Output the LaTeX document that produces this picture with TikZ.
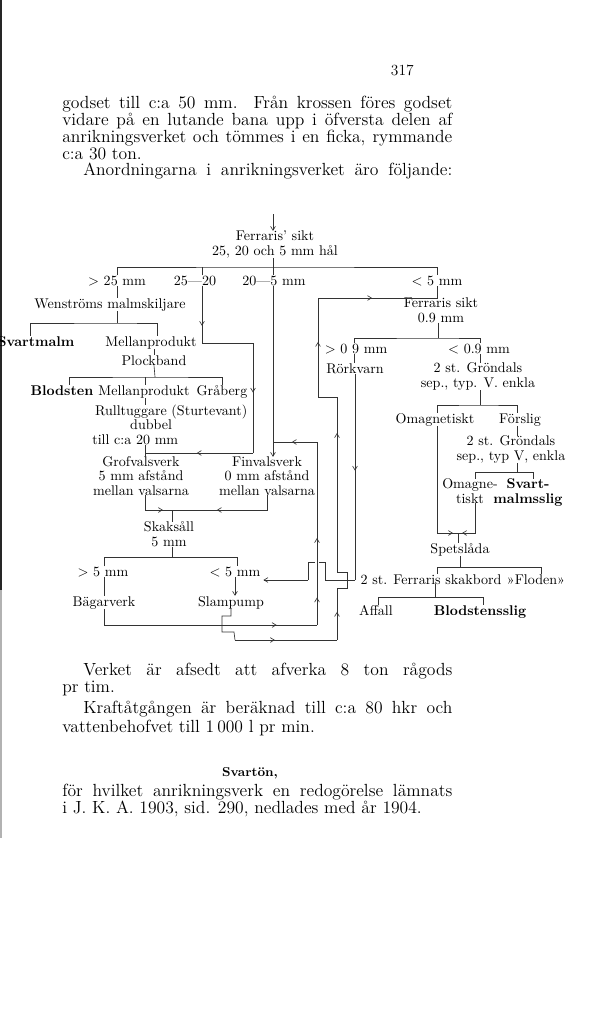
\documentclass[tikz,border=0pt]{standalone}
\usetikzlibrary{arrows.meta,decorations.markings}

\tikzset{
  lbl/.style={font=\fontsize{10}{10}\selectfont, inner sep=0pt, anchor=base, align=center},
  heavy/.style={lbl, font=\fontsize{10}{10}\selectfont\bfseries},
  bodytext/.style={font=\fontsize{12.5}{12.1}\selectfont, inner sep=0pt, anchor=base west, align=left},
  wire/.style={draw=black!80, line width=0.45pt},
  flow/.style={wire, -{Straight Barb[length=2.8pt,width=3.4pt]}},
  tipat/.style={postaction={decorate, decoration={markings,
      mark=at position #1 with {\arrow{Straight Barb[length=2.8pt,width=3.4pt]}}}}},
  bridge/.style={preaction={draw=white, line width=2.4pt, shorten <=4pt, shorten >=4pt}}
}

\begin{document}
\begin{tikzpicture}[x=0.025cm, y=-0.025cm]
\useasboundingbox (0,0) rectangle (616,1009);

% scan edge
\draw[black!85, line width=1.1pt] (1,0) -- (1,590);
\draw[black!30, line width=1pt] (1,590) -- (1,838);

% page text above (base anchor = last line)
\node[bodytext, anchor=base east, font=\fontsize{11}{12}\selectfont] (pageno) at (414,75) {317};
\node[bodytext] (intro) at (62,159.7) {\makebox[9.75cm][s]{godset till c:a 50 mm. Från krossen föres godset}\\
  \makebox[9.75cm][s]{vidare på en lutande bana upp i öfversta delen af}\\
  \makebox[9.75cm][s]{anrikningsverket och tömmes i en ficka, rymmande}\\
  c:a 30 ton.};
\node[bodytext] (anord) at (83,175.7) {\makebox[9.225cm][s]{Anordningarna i anrikningsverket äro följande:}};

% diagram, left half
\node[lbl] (fsikt) at (275,255) {Ferraris' sikt\\25, 20 och 5 mm hål};
\node[lbl] (gtA) at (117,285) {> 25 mm};
\node[lbl] (mid) at (195,285) {25---20};
\node[lbl] (fine) at (274,285) {20---5 mm};
\node[lbl] (ltA) at (437,285) {< 5 mm};
\node[lbl] (wen) at (110,308) {Wenströms malmskiljare};
\node[heavy] (svm) at (36,346) {Svartmalm};
\node[lbl] (mpA) at (151,346) {Mellanprodukt};
\node[lbl] (plock) at (154,365) {Plockband};
\node[heavy] (blod) at (62,395) {Blodsten};
\node[lbl] (mpB) at (144,395) {Mellanprodukt};
\node[lbl] (grab) at (222,395) {Gråberg};
\node[lbl, anchor=base west, align=left] (rull) at (92,444)
  {\hspace*{2pt}Rulltuggare (Sturtevant)\\\hspace*{27pt}dubbel\\till c:a 20 mm};
\node[lbl] (grof) at (141,495) {Grofvalsverk\\5 mm afstånd\\mellan valsarna};
\node[lbl] (fin) at (267,495) {Finvalsverk\\0 mm afstånd\\mellan valsarna};
\node[lbl] (sall) at (169,546) {Skaksåll\\5 mm};
\node[lbl] (gtB) at (103,576) {> 5 mm};
\node[lbl] (ltB) at (235,576) {< 5 mm};
\node[lbl] (bag) at (104,606) {Bägarverk};
\node[lbl] (slam) at (231,606) {Slampump};

% diagram, right half
\node[lbl] (fsB) at (441,322) {Ferraris sikt\\0.9 mm};
\node[lbl] (gtC) at (356,353) {> 0 9 mm};
\node[lbl] (ltC) at (479,353) {< 0.9 mm};
\node[lbl] (rork) at (355,373) {Rörkvarn};
\node[lbl] (gronA) at (478,387) {2 st. Gröndals\\sep., typ. V. enkla};
\node[lbl] (omagA) at (435,423) {Omagnetiskt};
\node[lbl] (forsl) at (520,423) {Förslig};
\node[lbl] (gronB) at (511,460) {2 st. Gröndals\\sep., typ V, enkla};
\node[lbl] (omagB) at (470,503) {Omagne-\\tiskt};
\node[heavy] (svslig) at (528,503) {Svart-\\malmsslig};
\node[lbl] (spets) at (460,553) {Spetslåda};
\node[lbl] (skakb) at (431,584) {2 st. Ferraris skakbord};
\node[lbl] (floden) at (536,584) {»Floden»};
\node[lbl] (affall) at (376,615) {Affall};
\node[heavy] (bslig) at (480,615) {Blodstensslig};

% junctions
\coordinate (feed) at (273,214);
\coordinate (sA) at (273,267);
\coordinate (sB) at (117,323);
\coordinate (sC) at (155,377);
\coordinate (cA) at (202,343);
\coordinate (cB) at (253,343);
\coordinate (cC) at (253,453);
\coordinate (jA) at (145,453);
\coordinate (cD) at (273,442);
\coordinate (cE) at (104,625);
\coordinate (cF) at (317,625);
\coordinate (cG) at (317,442);
\coordinate (jB) at (172,510);
\coordinate (sD) at (172,557);
\coordinate (cI) at (337,640);
\coordinate (cJ) at (235,640);
\coordinate (cK) at (337,588);
\coordinate (cL) at (337,572);
\coordinate (cM) at (337,397);
\coordinate (cN) at (318,397);
\coordinate (cO) at (318,298);
\coordinate (cP) at (438,298);
\coordinate (cQ) at (355,580);
\coordinate (cR) at (308,580);
\coordinate (sE) at (438,338);
\coordinate (sF) at (480,405);
\coordinate (sG) at (517,472);
\coordinate (jC) at (458,533);
\coordinate (sH) at (460,567);
\coordinate (sI) at (435,597);

% sikt 25, 20, 5
\draw[flow] (feed) -- (fsikt.north -| feed);
\draw[wire] (fsikt.south -| sA) -- (sA);
\draw[wire] (gtA.north) |- (sA) -| (ltA.north);
\draw[wire] (fine.north -| sA) -- (sA);
\draw[wire] (mid.north -| cA) -- (sA -| cA);

% Wenström, plockband
\draw[wire] (gtA.south) -- (wen.north -| gtA.south);
\draw[wire] (wen.south -| sB) -- (sB);
\draw[wire] (svm.north -| 30,0) |- (sB) -| (mpA.north -| 157,0);
\draw[wire] (mpA.south -| plock.north) -- (plock.north);
\draw[wire] (plock.south) -- (sC);
\draw[wire] (blod.north -| 69,0) |- (sC) -| (grab.north);
\draw[wire] (mpB.north -| jA) -- (sC -| jA);
\draw[wire] (mpB.south -| jA) -- (rull.north -| jA);

% 25-20 to the rolls
\draw[wire, tipat=0.7] (mid.south -| cA) -- (cA);
\draw[wire] (cA) -- (cB);
\draw[wire, tipat=0.45] (cB) -- (cC);
\draw[wire, tipat=0.52] (cC) -- (jA);
\draw[wire] (rull.south -| jA) -- (grof.north -| jA);

% 20-5 to Finvalsverk
\draw[wire] (fine.south -| sA) -- (cD);
\draw[flow] (cD) -- (fin.north -| cD);

% rolls to Skaksåll
\draw[wire, tipat=0.78] (grof.south -| jA) |- (jB);
\draw[wire, tipat=0.59] (fin.south) |- (jB);
\draw[wire] (jB) -- (sall.north -| jB);
\draw[wire] (sall.south -| sD) -- (sD);
\draw[wire] (gtB.north -| cE) |- (sD) -| (ltB.north -| 237,0);
\draw[wire] (gtB.south -| cE) -- (bag.north -| cE);
\draw[flow] (ltB.south) -- (slam.north -| ltB.south);

% Rörkvarn to Slampump
\draw[wire, tipat=0.47] (rork.south) -- (cQ);
\draw[wire] (cQ) -- ++(-30,0) -- ++(0,-18) -- ++(-17,0) -- (cR);
\draw[flow] (cR) -- ([xshift=2pt]ltB.east |- cR);

% Bägarverk back to Finvalsverk
\draw[wire] (bag.south) -- (cE);
\draw[wire, tipat=0.81] (cE) -- (cF);
\draw[wire, bridge, tipat=0.15, tipat=0.475] (cF) -- (cG);
\draw[wire, tipat=0.57] (cG) -- (cD);

% Slampump back to Ferraris sikt 0.9
\draw[wire] (slam.south) -- ++(0,7) -- ++(-9,0) -- ++(0,16) -- ++(12,0) -- (cJ);
\draw[wire, tipat=0.39] (cJ) -- (cI);
\draw[wire, tipat=0.54] (cI) -- (cK);
\draw[wire] (cK) -- ++(10,0) -- ++(0,-16) -- (cL);
\draw[wire, tipat=0.794] (cL) -- (cM);
\draw[wire] (cM) -- (cN);
\draw[wire, tipat=0.556] (cN) -- (cO);
\draw[wire, tipat=0.45] (cO) -- (cP);
\draw[wire] (ltA.south) -- (fsB.north -| ltA.south);

% Ferraris sikt 0.9
\draw[wire] (fsB.south -| sE) -- (sE);
\draw[wire] (gtC.north -| 354,0) |- (sE) -| (ltC.north -| 480,0);
\draw[wire] (gtC.south -| 354,0) -- (rork.north -| 354,0);
\draw[wire] (ltC.south -| 480,0) -- (gronA.north -| 480,0);

% Gröndals separators
\draw[wire] (gronA.south -| sF) -- (sF);
\draw[wire] (omagA.north -| 437,0) |- (sF) -| (forsl.north -| 517,0);
\draw[wire] (forsl.south -| 517,0) -- (gronB.north -| 517,0);
\draw[wire] (gronB.south -| sG) -- (sG);
\draw[wire] (omagB.north -| 475,0) |- (sG) -| (svslig.north -| 533,0);
\draw[wire, tipat=0.96] (omagA.south -| 437,0) |- (jC);
\draw[wire, tipat=0.91] (omagB.south -| 475,0) |- (jC);
\draw[wire] (jC) -- (spets.north -| jC);

% Spetslåda, skakbord
\draw[wire] (spets.south -| sH) -- (sH);
\draw[wire] (skakb.north -| 437,0) |- (sH) -| (floden.north -| 541,0);
\draw[wire] (skakb.south -| sI) -- (sI);
\draw[wire] (affall.north -| 378,0) |- (sI) -| (bslig.north -| 483,0);

% page text below
\node[bodytext] (verket) at (83,675.7) {\makebox[9.225cm][s]{Verket är afsedt att afverka 8 ton rågods}};
\node[bodytext] (tim) at (62,692.7) {pr tim.};
\node[bodytext] (kraft) at (83,713.7) {\makebox[9.225cm][s]{Kraftåtgången är beräknad till c:a 80 hkr och}};
\node[bodytext] (vatten) at (62,732.7) {vattenbehofvet till 1\,000 l pr min.};
\node[bodytext, anchor=base, font=\fontsize{9.2}{11}\selectfont\bfseries] (svarton) at (250,776) {Svartön,};
\node[bodytext] (hvilket) at (62,813.7) {\makebox[9.75cm][s]{för hvilket anrikningsverk en redogörelse lämnats}\\
  i J. K. A. 1903, sid. 290, nedlades med år 1904.};
\end{tikzpicture}
\end{document}
